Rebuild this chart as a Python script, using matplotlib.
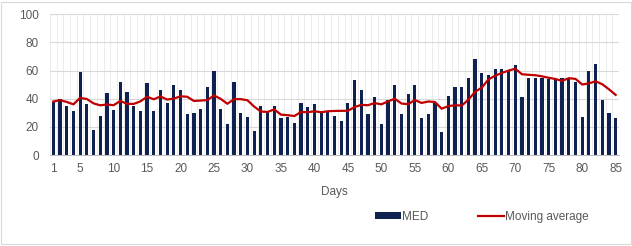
import numpy as np
import matplotlib.pyplot as plt
from matplotlib.patches import Rectangle

plt.rcParams['font.family'] = ['Liberation Sans', 'DejaVu Sans']

days = list(range(1, 86))
med = [38, 40, 35, 31, 59, 36, 18, 28, 44, 32, 52, 45, 35, 31, 51, 31, 46, 37, 50, 46,
       29, 30, 33, 48, 60, 33, 22, 52, 30, 27, 17, 35, 31, 35, 26, 27, 23, 37, 34, 36,
       30, 31, 28, 24, 37, 53, 46, 29, 41, 22, 39, 50, 29, 43, 50, 26, 29, 37, 16, 42,
       48, 48, 55, 68, 58, 57, 61, 61, 60, 64, 41, 55, 55, 55, 54, 54, 55, 54, 52, 27,
       60, 65, 39, 30, 26]
moving_avg = [38.0, 39.0, 37.7, 36.0, 40.6, 39.8, 36.7, 35.3, 35.9, 35.4,
              38.4, 36.4, 36.3, 38.1, 41.4, 39.6, 41.6, 39.4, 40.1, 41.7,
              41.4, 38.4, 38.7, 39.0, 42.3, 39.9, 36.4, 39.7, 39.7, 38.9,
              34.4, 30.9, 30.6, 32.4, 28.7, 28.3, 27.7, 30.6, 30.4, 31.1,
              30.4, 31.1, 31.3, 31.4, 31.4, 34.1, 35.6, 35.4, 36.9, 36.0,
              38.1, 40.0, 36.6, 36.1, 39.1, 37.0, 38.0, 37.7, 32.9, 34.7,
              35.4, 35.1, 39.3, 44.9, 47.9, 53.7, 56.4, 58.3, 60.0, 61.3,
              57.4, 57.0, 56.7, 55.9, 54.9, 54.0, 52.7, 54.6, 54.1, 50.1,
              50.9, 52.4, 50.3, 46.7, 42.7]
xticks = [1, 5, 10, 15, 20, 25, 30, 35, 40, 45, 50, 55, 60, 65, 70, 75, 80, 85]
yticks = [0, 20, 40, 60, 80, 100]

text_color = '#595959'
fig = plt.figure(figsize=(6.32, 2.46), dpi=100)
ax = fig.add_axes([50 / 632, 1 - 155 / 246, 569 / 632, (155 - 14.3) / 246])

# light vertical grid between categories
for x in np.arange(0.5, 86, 1.0):
    ax.axvline(x, color='#ececec', lw=0.7, zorder=0)
for y in yticks[1:]:
    ax.axhline(y, color='#d9d9d9', lw=0.8, zorder=0)

bars = ax.bar(days, med, width=0.48, color='#0f2150', label='MED', zorder=2)
line, = ax.plot(days, moving_avg, color='#c00000', lw=1.6, label='Moving average', zorder=3)

ax.set_xlim(0.5, 85.5)
ax.set_ylim(0, 100)
ax.set_xticks(xticks)
ax.set_yticks(yticks)
ax.tick_params(length=0, labelsize=8.5, colors=text_color, pad=6)
ax.tick_params(axis='y', pad=8)
for side in ['top', 'right', 'left']:
    ax.spines[side].set_visible(False)
ax.spines['bottom'].set_color('#bfbfbf')
ax.spines['bottom'].set_linewidth(0.8)
ax.set_xlabel('Days', fontsize=8.5, color=text_color, labelpad=8)

fig.legend([bars, line], ['MED', 'Moving average'],
           loc='center left', bbox_to_anchor=(375 / 632, 1 - 216.7 / 246),
           ncol=2, frameon=False, fontsize=8.5, labelcolor=text_color,
           handlelength=2.2, handleheight=0.6, handletextpad=0.1,
           columnspacing=4.2, borderpad=0, borderaxespad=0)

fig.add_artist(Rectangle((0.002, 0.01), 0.996, 0.982, transform=fig.transFigure,
                         fill=False, edgecolor='#d9d9d9', lw=0.8))

fig.savefig('out.png', dpi=100)
